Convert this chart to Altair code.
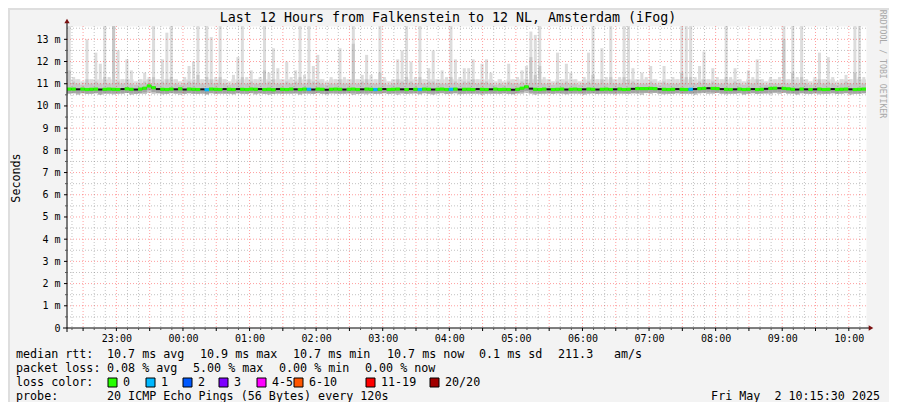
import json
import altair as alt
import pandas as pd

MONO = "DejaVu Sans Mono"
W, H = 799, 302
YMAX = 13.6
T0, STEP = 15.5, 4.0          # minutes after 22:00 (22:15:30), 4-minute bins
T1 = T0 + 720                 # 12 hours

# ---- smoke: light (all pings) top, medium band top, bottom -----------------
smoke_top = [
    14, 11.3, 11.2, 11.1, 13.0, 11.2, 12.4, 11.9, 14, 11.3,
    14, 12.5, 11.2, 12.1, 11.6, 11.1, 11.2, 11.5, 11.3, 14,
    11.2, 12.1, 13.3, 14, 11.2, 11.1, 11.3, 11.8, 12.0, 14,
    11.2, 14, 13.1, 11.3, 14, 11.2, 11.1, 11.4, 12.2, 14,
    11.3, 11.6, 11.2, 11.3, 14, 11.5, 12.6, 11.7, 11.2, 12.0,
    11.3, 11.6, 14, 11.4, 14, 11.8, 12.3, 11.2, 11.1, 11.3,
    11.2, 12.6, 11.3, 11.2, 14, 11.2, 11.4, 12.3, 11.4, 11.2,
    14, 11.3, 11.1, 11.2, 12.1, 12.5, 14, 12.0, 11.3, 14,
    11.2, 11.7, 12.5, 11.2, 11.6, 11.3, 14, 12.1, 11.3, 11.7,
    11.7, 12.1, 11.2, 11.9, 12.1, 11.5, 11.1, 11.2, 11.1, 11.9,
    11.2, 11.3, 11.6, 11.8, 13.35, 13.2, 14, 11.3, 11.2, 11.1,
    12.4, 11.2, 11.9, 11.5, 11.2, 11.1, 11.3, 12.4, 14, 11.2,
    12.6, 11.3, 14, 11.2, 11.3, 14, 14, 11.7, 11.2, 11.5,
    11.3, 11.8, 11.2, 11.1, 11.8, 11.2, 11.3, 11.2, 14, 14,
    14, 11.3, 11.8, 12.45, 11.2, 11.7, 11.3, 11.2, 14, 11.3,
    11.7, 11.2, 11.1, 11.6, 11.3, 12.1, 11.2, 11.1, 11.3, 11.2,
    11.3, 14, 11.2, 14, 11.3, 14, 11.2, 11.1, 11.3, 12.4,
    11.2, 12.2, 11.3, 11.1, 11.2, 11.4, 11.2, 14, 14, 11.3,
]
smoke_mid = [
    11.6, 11.1, 11.0, 10.95, 11.2, 11.0, 11.1, 11.0, 11.3, 11.0,
    14, 11.1, 11.0, 11.2, 11.0, 10.95, 11.0, 11.1, 11.2, 11.3,
    11.0, 11.1, 11.2, 11.3, 11.0, 10.95, 11.0, 11.1, 11.1, 11.4,
    11.0, 11.3, 11.2, 11.0, 11.3, 11.0, 10.95, 11.0, 11.1, 11.3,
    11.0, 11.1, 11.0, 11.0, 11.6, 11.1, 11.2, 11.0, 11.0, 11.1,
    11.0, 11.1, 11.3, 11.0, 11.2, 11.1, 11.1, 11.0, 10.95, 11.0,
    11.0, 11.2, 11.0, 11.0, 12.8, 11.0, 11.1, 11.2, 11.0, 11.0,
    11.5, 11.0, 10.95, 11.0, 11.2, 11.1, 11.3, 11.1, 11.0, 11.3,
    11.0, 11.1, 11.1, 11.0, 11.0, 11.0, 11.3, 11.1, 11.0, 11.1,
    11.1, 11.2, 11.0, 11.1, 11.1, 11.0, 10.95, 11.0, 10.95, 11.1,
    11.0, 11.0, 11.1, 11.2, 12.2, 11.4, 11.8, 11.0, 11.0, 10.95,
    11.1, 11.0, 11.1, 11.0, 11.0, 10.95, 11.0, 11.1, 11.4, 11.0,
    11.2, 11.0, 11.3, 11.0, 11.0, 11.3, 11.2, 11.1, 11.0, 11.0,
    11.0, 11.1, 11.0, 10.95, 11.1, 11.0, 11.0, 11.0, 11.5, 11.3,
    11.3, 11.0, 11.1, 11.2, 11.0, 11.1, 11.0, 11.0, 11.3, 11.0,
    11.1, 11.0, 10.95, 11.1, 11.0, 11.2, 11.0, 10.95, 11.0, 11.0,
    11.0, 13.0, 11.0, 11.5, 11.0, 11.3, 11.0, 10.95, 11.0, 11.2,
    11.0, 11.1, 11.0, 10.95, 11.0, 11.1, 11.0, 11.5, 11.3, 11.0,
]
smoke_low = [
    10.55, 10.58, 10.52, 10.6, 10.56, 10.54, 10.58, 10.5, 10.57, 10.55,
    10.53, 10.58, 10.56, 10.6, 10.52, 10.55, 10.57, 10.54, 10.6, 10.56,
    10.58, 10.53, 10.55, 10.6, 10.57, 10.52, 10.56, 10.58, 10.54, 10.55,
    10.57, 10.52, 10.58, 10.55, 10.6, 10.54, 10.56, 10.53, 10.58, 10.55,
    10.56, 10.6, 10.53, 10.57, 10.55, 10.52, 10.58, 10.56, 10.54, 10.6,
    10.55, 10.58, 10.52, 10.56, 10.57, 10.54, 10.6, 10.55, 10.53, 10.58,
    10.56, 10.54, 10.58, 10.6, 10.52, 10.55, 10.57, 10.53, 10.58, 10.56,
    10.55, 10.6, 10.54, 10.57, 10.52, 10.58, 10.55, 10.56, 10.6, 10.53,
    10.58, 10.55, 10.52, 10.57, 10.6, 10.54, 10.56, 10.58, 10.53, 10.55,
    10.57, 10.6, 10.55, 10.52, 10.58, 10.56, 10.54, 10.57, 10.6, 10.55,
    10.53, 10.58, 10.56, 10.6, 10.55, 10.52, 10.57, 10.54, 10.58, 10.56,
    10.6, 10.55, 10.53, 10.57, 10.56, 10.58, 10.52, 10.55, 10.6, 10.54,
    10.57, 10.55, 10.58, 10.53, 10.56, 10.6, 10.54, 10.57, 10.55, 10.52,
    10.58, 10.56, 10.6, 10.55, 10.53, 10.57, 10.54, 10.58, 10.56, 10.6,
    10.55, 10.52, 10.57, 10.58, 10.54, 10.56, 10.6, 10.55, 10.53, 10.57,
    10.56, 10.58, 10.52, 10.55, 10.6, 10.54, 10.57, 10.56, 10.53, 10.58,
    10.55, 10.6, 10.54, 10.57, 10.52, 10.58, 10.56, 10.55, 10.6, 10.53,
    10.57, 10.55, 10.58, 10.54, 10.56, 10.6, 10.52, 10.57, 10.55, 10.58,
]
# ---- median rtt (ms) ------------------------------------------------------
median_ms = [
    10.76, 10.76, 10.75, 10.76, 10.74, 10.75, 10.76, 10.74, 10.75, 10.76,
    10.75, 10.74, 10.76, 10.77, 10.75, 10.74, 10.76, 10.80, 10.90, 10.82,
    10.76, 10.75, 10.74, 10.76, 10.75, 10.77, 10.74, 10.76, 10.75, 10.74,
    10.75, 10.73, 10.76, 10.75, 10.74, 10.76, 10.75, 10.74, 10.76, 10.75,
    10.74, 10.76, 10.75, 10.76, 10.74, 10.75, 10.73, 10.76, 10.75, 10.74,
    10.76, 10.75, 10.74, 10.76, 10.75, 10.74, 10.76, 10.75, 10.73, 10.75,
    10.76, 10.75, 10.74, 10.75, 10.76, 10.74, 10.75, 10.76, 10.75, 10.74,
    10.75, 10.76, 10.74, 10.75, 10.76, 10.75, 10.74, 10.76, 10.75, 10.74,
    10.76, 10.75, 10.74, 10.75, 10.76, 10.74, 10.75, 10.76, 10.74, 10.75,
    10.75, 10.74, 10.76, 10.75, 10.74, 10.75, 10.76, 10.74, 10.75, 10.74,
    10.73, 10.75, 10.80, 10.86, 10.78, 10.75, 10.74, 10.76, 10.75, 10.74,
    10.75, 10.76, 10.74, 10.75, 10.76, 10.74, 10.75, 10.76, 10.75, 10.74,
    10.75, 10.76, 10.74, 10.75, 10.76, 10.74, 10.75, 10.77, 10.78, 10.78,
    10.78, 10.79, 10.78, 10.76, 10.75, 10.74, 10.75, 10.76, 10.75, 10.74,
    10.75, 10.76, 10.78, 10.79, 10.80, 10.79, 10.78, 10.76, 10.75, 10.74,
    10.75, 10.76, 10.74, 10.75, 10.76, 10.74, 10.75, 10.77, 10.79, 10.80,
    10.80, 10.79, 10.77, 10.75, 10.74, 10.76, 10.75, 10.74, 10.75, 10.76,
    10.74, 10.75, 10.76, 10.74, 10.75, 10.76, 10.75, 10.74, 10.75, 10.76,
]
blue_bins = [31, 54, 69, 79, 86, 140]          # 1/20 lost
dark_bins = [2, 7, 12, 15, 20, 24, 26, 30, 35, 38, 43, 47, 51, 55, 58, 62, 66,
             71, 75, 77, 82, 88, 92, 95, 100, 104, 108, 112, 116, 119, 123,
             127, 133, 137, 141, 144, 147, 150, 154, 157, 160, 164, 166, 168,
             172, 176]

hour_labels = ["23:00", "00:00", "01:00", "02:00", "03:00", "04:00",
               "05:00", "06:00", "07:00", "08:00", "09:00", "10:00"]
y_labels = ["0\u2007\u2007"] + [f"{v} m" for v in range(1, 14)]

loss_names = ["0", "1", "2", "3", "4-5", "6-10", "11-19", "20/20"]
loss_colors = ["#26ff00", "#00b8ff", "#0059ff", "#7e00ff", "#ff00ff",
               "#ff5500", "#ff0000", "#a10000"]

# ---------------------------------------------------------------------------
rows = []
for i in range(len(smoke_top)):
    rows.append(dict(start=T0 + STEP * i, end=T0 + STEP * (i + 1),
                     c=T0 + STEP * (i + 0.5),
                     top=smoke_top[i], mid=smoke_mid[i], low=smoke_low[i],
                     med=median_ms[i], lc="1" if i in blue_bins else "0",
                     dark=int(i in dark_bins)))
df = pd.DataFrame(rows)

hour_ticks = [60 * (k + 1) for k in range(len(hour_labels))]
XS = alt.Scale(domain=[T0, T1], nice=False, zero=False, padding=0)
YS = alt.Scale(domain=[0, YMAX], nice=False, zero=False, padding=0)
X_AX = alt.Axis(values=hour_ticks, title=None, domain=False, ticks=False,
                grid=False, labelFont=MONO, labelFontSize=10, labelColor="#000",
                labelPadding=5, labelFlush=False,
                labelExpr=f"{json.dumps(hour_labels)}[round(datum.value/60)-1]")
Y_AX = alt.Axis(values=list(range(14)), title=None, domain=False, ticks=False,
                grid=False, labelFont=MONO, labelFontSize=10, labelColor="#000",
                labelPadding=7,
                labelExpr=f"{json.dumps(y_labels)}[round(datum.value)]")


def X(f):
    return alt.X(f, type="quantitative", scale=XS, axis=X_AX)


def Y(f):
    return alt.Y(f, type="quantitative", scale=YS, axis=Y_AX)


LIGHT, MEDIUM, DARK = "#dcdcdc", "#c6c6c6", "#a4a4a4"
base = alt.Chart(df)
smoke_light_band = base.transform_calculate(
    t="min(datum.top, 11.2)").mark_rect(color=LIGHT).encode(
    x=X("start"), x2="end", y=Y("low"), y2="t:Q")
smoke_light_spike = base.mark_bar(color=LIGHT, size=3, clip=True).encode(
    x=X("c"), y=Y("low"), y2="top")
smoke_mid_band = base.transform_calculate(
    t="min(datum.mid, 11.02)").mark_rect(color=MEDIUM).encode(
    x=X("start"), x2="end", y=Y("low"), y2="t:Q")
smoke_mid_spike = base.mark_bar(color=MEDIUM, size=3, clip=True).encode(
    x=X("c"), y=Y("low"), y2="mid")
smoke_dark = base.transform_calculate(
    d0="datum.med - 0.19", d1="datum.med").mark_rect(color=DARK).encode(
    x=X("start"), x2="end", y=Y("d0:Q"), y2="d1:Q")

# grid
minor_x = [m for m in range(20, 736, 10) if m % 30 != 0]
major_x = list(range(30, 736, 30))
minor_y = [k + 0.5 for k in range(14)]
major_y = list(range(1, 14))
GRAY = "rgba(110,110,110,0.42)"
RED = "rgba(255,0,0,0.38)"
grid = [
    alt.Chart(pd.DataFrame({"m": minor_x})).mark_rule(
        color=GRAY, strokeDash=[1, 2], strokeWidth=1).encode(x=X("m")),
    alt.Chart(pd.DataFrame({"v": minor_y})).mark_rule(
        color=GRAY, strokeDash=[1, 2], strokeWidth=1).encode(y=Y("v")),
    alt.Chart(pd.DataFrame({"m": major_x})).mark_rule(
        color=RED, strokeDash=[1, 2], strokeWidth=1).encode(x=X("m")),
    alt.Chart(pd.DataFrame({"v": major_y})).mark_rule(
        color=RED, strokeDash=[1, 2], strokeWidth=1).encode(y=Y("v")),
]

med_line = base.mark_rule(color="#141414", strokeWidth=2).encode(
    x=X("start"), x2="end", y=Y("med"))
band = base.transform_filter("datum.dark == 0").transform_calculate(
    b0="datum.med - 0.07", b1="datum.med + 0.07").mark_rect().encode(
    x=X("start"), x2="end", y=Y("b0:Q"), y2="b1:Q",
    color=alt.Color("lc:N", scale=alt.Scale(domain=["0", "1"],
                    range=[loss_colors[0], loss_colors[1]]), legend=None))

# axes (drawn like rrdtool: lines with arrow heads, small ticks)
ONE = pd.DataFrame({"k": [0]})
axis_layers = [
    alt.Chart(ONE).mark_rule(color="#000", strokeWidth=1).encode(
        x=alt.value(-4), x2=alt.value(W + 3), y=alt.value(H)),
    alt.Chart(ONE).mark_rule(color="#000", strokeWidth=1).encode(
        x=alt.value(0), y=alt.value(-4), y2=alt.value(H + 4)),
    alt.Chart(ONE).mark_point(shape="triangle-up", filled=True, size=28,
                              color="#7a1010", opacity=1).encode(
        x=alt.value(0), y=alt.value(-5)),
    alt.Chart(ONE).mark_point(shape="triangle-right", filled=True, size=28,
                              color="#7a1010", opacity=1).encode(
        x=alt.value(W + 5), y=alt.value(H)),
    alt.Chart(pd.DataFrame({"m": major_x})).mark_rule(color="#000").encode(
        x=X("m"), y=alt.value(H), y2=alt.value(H + 3)),
    alt.Chart(pd.DataFrame({"m": minor_x})).mark_rule(color="#555").encode(
        x=X("m"), y=alt.value(H), y2=alt.value(H + 2)),
    alt.Chart(pd.DataFrame({"v": major_y})).mark_rule(color="#000").encode(
        y=Y("v"), x=alt.value(-3), x2=alt.value(0)),
    alt.Chart(pd.DataFrame({"v": minor_y[:-1]})).mark_rule(color="#555").encode(
        y=Y("v"), x=alt.value(-2), x2=alt.value(0)),
]


def txt(s, x, y, size=11.7, align="left", angle=0, color="#000"):
    return alt.Chart(ONE).mark_text(
        text=s, font=MONO, fontSize=size, align=align, baseline="middle",
        angle=angle, color=color).encode(x=alt.value(x), y=alt.value(y))


OX, OY = 67, 26   # page position of plot origin
texts = [
    txt("Last 12 Hours from Falkenstein to 12 NL, Amsterdam (iFog)",
        448 - OX, 18 - OY, size=13.3, align="center"),
    txt("Seconds", 16 - OX, 178 - OY, angle=270, align="center"),
    txt("RRDTOOL / TOBI OETIKER", 882 - OX, 64 - OY, size=8.2, angle=90,
        align="center", color="#a8a8a8"),
]
legend_segments = [
    ("median rtt:", 16, 354), ("10.7 ms avg", 107, 354),
    ("10.9 ms max", 200, 354), ("10.7 ms min", 293, 354),
    ("10.7 ms now", 387, 354), ("0.1 ms sd", 479, 354),
    ("211.3", 558, 354), ("am/s", 614, 354),
    ("packet loss:", 16, 368), ("0.08 % avg", 107, 368),
    ("5.00 % max", 193, 368), ("0.00 % min", 279, 368),
    ("0.00 % now", 365, 368),
    ("loss color:", 16, 382),
    ("probe:", 16, 396), ("20 ICMP Echo Pings (56 Bytes) every 120s", 107, 396),
]
for s, x, y in legend_segments:
    texts.append(txt(s, x - OX, y - OY))
texts.append(txt("Fri May \u00a02 10:15:30 2025", 880 - OX, 396 - OY,
                 align="right"))

box_x = [108, 146, 183, 219, 257, 294, 366, 430]
for bx, name, col in zip(box_x, loss_names, loss_colors):
    texts.append(alt.Chart(ONE).mark_rect(fill=col, stroke="#000",
                                          strokeWidth=1).encode(
        x=alt.value(bx - OX), x2=alt.value(bx - OX + 9),
        y=alt.value(378 - OY), y2=alt.value(387 - OY)))
    texts.append(txt(name, bx + 15 - OX, 382 - OY))

CW, CH = 881, 394
PL, PT = 59, 18
frame = [
    alt.Chart(ONE).mark_rule(color="#dedede", strokeWidth=2).encode(
        x=alt.value(-PL), x2=alt.value(CW - PL), y=alt.value(-PT + 1)),
    alt.Chart(ONE).mark_rule(color="#dedede", strokeWidth=2).encode(
        x=alt.value(-PL + 1), y=alt.value(-PT), y2=alt.value(CH - PT)),
]

chart = alt.layer(
    smoke_light_band, smoke_light_spike, smoke_mid_band, smoke_mid_spike,
    smoke_dark, *grid, med_line, band, *axis_layers, *texts, *frame
).properties(
    width=W, height=H,
    autosize=alt.AutoSizeParams(type="none"),
    padding={"left": PL, "top": PT, "right": CW - PL - W, "bottom": CH - PT - H},
).configure(background="#f3f3f3").configure_view(fill="white", stroke="transparent")

chart.save("out.html", embed_options={"renderer": "svg", "actions": False})
